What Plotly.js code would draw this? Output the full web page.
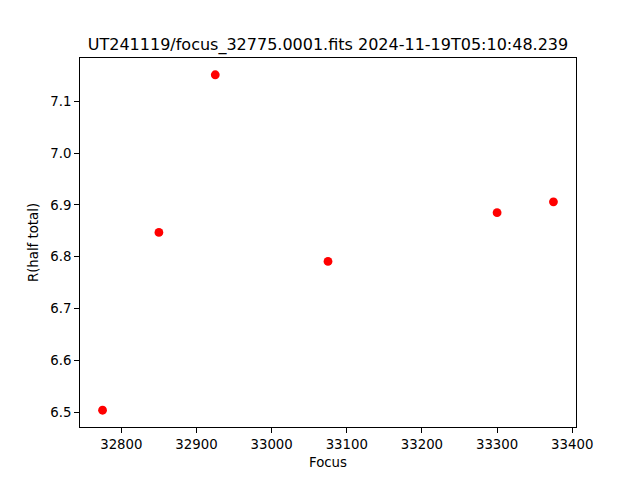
<!DOCTYPE html>
<html>
<head>
<meta charset="utf-8">
<script src="https://cdn.plot.ly/plotly-3.0.1.min.js"></script>
<style>html,body{margin:0;padding:0;background:#fff;}#chart{width:640px;height:480px;}</style>
</head>
<body>
<div id="chart"></div>
<script>
const focus = [32775, 32850, 32925, 33075, 33300, 33375];
const rHalfTotal = [6.504, 6.847, 7.151, 6.791, 6.885, 6.906];
const titleText = "UT241119/focus_32775.0001.fits 2024-11-19T05:10:48.239";
const xTickVals = [32800, 32900, 33000, 33100, 33200, 33300, 33400];
const yTickVals = [6.5, 6.6, 6.7, 6.8, 6.9, 7.0, 7.1];

function padRange(a) {
  const mn = Math.min(...a), mx = Math.max(...a), d = (mx - mn) * 0.05;
  return [mn - d, mx + d];
}

const font = {family: "DejaVu Sans, sans-serif", size: 13.3, color: "#000"};
const axisCommon = {
  showline: true, linecolor: "#000", linewidth: 1, mirror: true,
  ticks: "outside", ticklen: 4.9, tickwidth: 1, tickcolor: "#000",
  showgrid: false, zeroline: false, tickfont: font
};

Plotly.newPlot("chart", [{
  x: focus, y: rHalfTotal, type: "scatter", mode: "markers",
  marker: {color: "#ff0000", size: 8.8}
}], {
  width: 640, height: 480,
  paper_bgcolor: "#fff", plot_bgcolor: "#fff",
  margin: {l: 80, r: 64, t: 58, b: 53, pad: 0},
  showlegend: false,
  font: font,
  title: {text: titleText, font: {family: "DejaVu Sans, sans-serif", size: 16, color: "#000"},
          x: 0.5, xref: "paper", y: 1, yref: "paper", yanchor: "bottom", pad: {b: 8}},
  xaxis: Object.assign({}, axisCommon, {
    range: padRange(focus), tickvals: xTickVals, ticktext: xTickVals.map(String),
    title: {text: "Focus", font: font, standoff: 6}
  }),
  yaxis: Object.assign({}, axisCommon, {
    range: padRange(rHalfTotal), tickvals: yTickVals, ticktext: yTickVals.map(v => v.toFixed(1)),
    title: {text: "R(half total)", font: font, standoff: 8}
  })
}, {staticPlot: true});
</script>
</body>
</html>
